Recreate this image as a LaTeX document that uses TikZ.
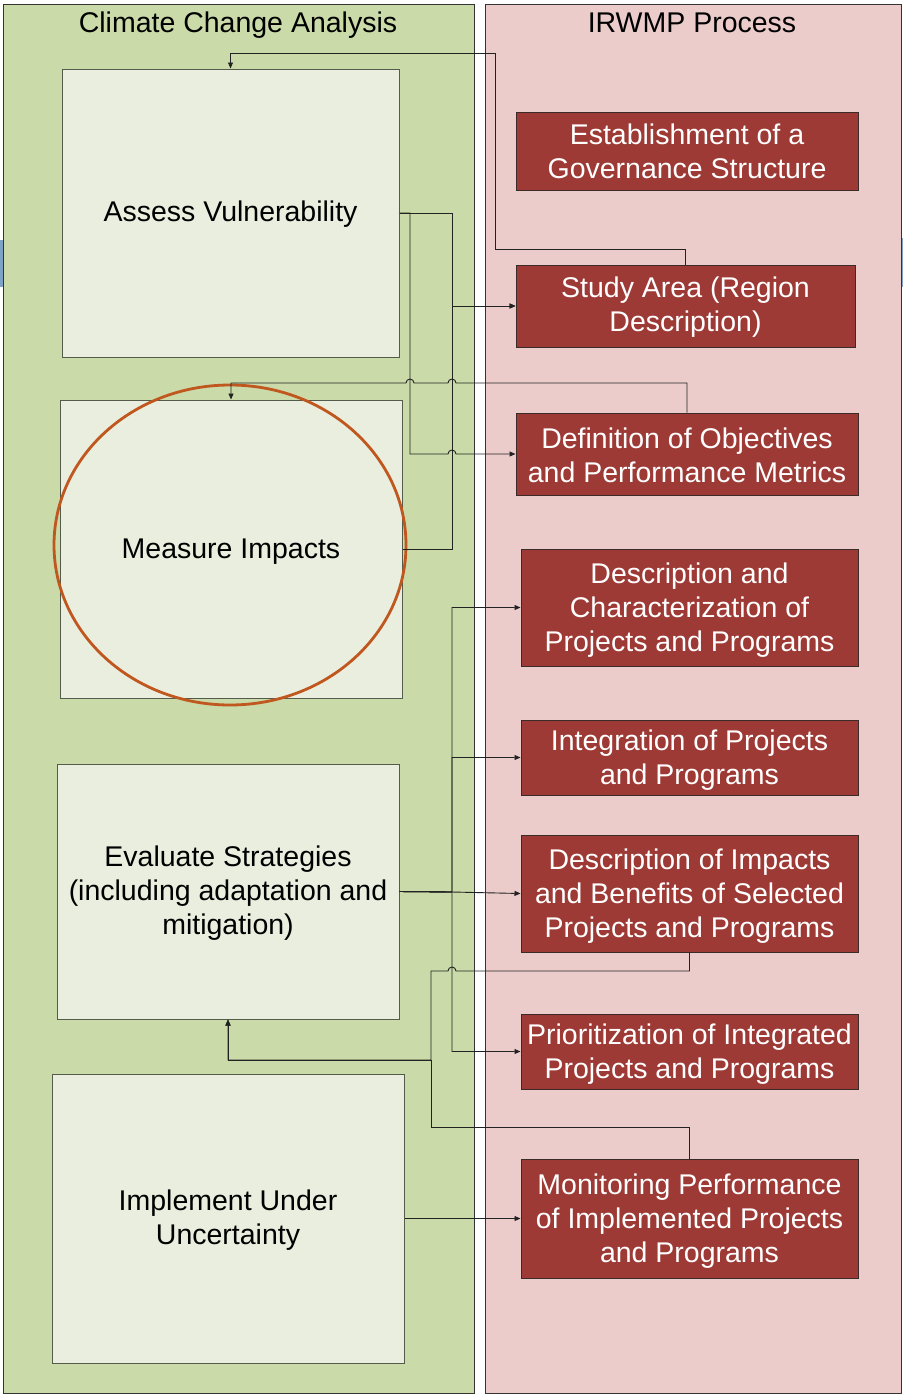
\documentclass[tikz,border=0pt]{standalone}
\usepackage{fontspec}
\setmainfont{Liberation Sans}
\usetikzlibrary{arrows.meta}
\definecolor{panelG}{HTML}{CADAA8}
\definecolor{boxG}{HTML}{EAEEDE}
\definecolor{panelR}{HTML}{EBCCCB}
\definecolor{boxR}{HTML}{9E3A35}
\definecolor{ellC}{HTML}{C0571F}
\definecolor{boxline}{HTML}{555B4A}
\definecolor{rline}{HTML}{3A2A28}
\definecolor{connC}{HTML}{222222}
\definecolor{edgeB}{HTML}{7FA3C8}
\newcommand\bigfs{\fontsize{28.5}{34}\selectfont}
\begin{document}
\begin{tikzpicture}[x=1pt,y=-1pt,
  lbox/.style={draw=boxline, fill=boxG, line width=1pt, inner sep=0pt},
  rbox/.style={draw=rline, fill=boxR, line width=1pt, inner sep=0pt},
  ltxt/.style={inner sep=0pt, align=center, text=black, font=\bigfs},
  rtxt/.style={inner sep=0pt, align=center, text=white, font=\bigfs},
  title/.style={inner sep=0pt, font=\bigfs, text=black, anchor=base},
  conn/.style={draw=connC, line width=0.9pt, -{Triangle[length=6pt,width=5pt]}}]
\useasboundingbox (0,0) rectangle (903,1395);
\fill[white] (0,0) rectangle (903,1395);
\fill[edgeB] (0,240) rectangle (3,287);
\fill[edgeB] (900,238) rectangle (903,287);
% panels
\draw[fill=panelG, draw=black!80, line width=1pt] (3,4) rectangle (474,1393);
\draw[fill=panelR, draw=black!80, line width=1pt] (485,4) rectangle (901,1393);
\node[title] (tl) at (238,32.5) {Climate Change Analysis};
\node[title] (tr) at (692,32.5) {IRWMP Process};
% left boxes
\node[lbox, minimum width=337pt, minimum height=288pt] (av) at (230.5,213) {};
\node[ltxt] (avt) at (230.5,214) {Assess Vulnerability};
\node[lbox, minimum width=342pt, minimum height=298pt] (mi) at (231,549) {};
\node[ltxt] (mit) at (231,551.5) {Measure Impacts};
\node[lbox, minimum width=342pt, minimum height=255pt] (es) at (228,891.5) {};
\node[ltxt] (est) at (228,893) {Evaluate Strategies\\(including adaptation and\\mitigation)};
\node[lbox, minimum width=352pt, minimum height=289pt] (iu) at (228,1218.5) {};
\node[ltxt] (iut) at (228,1220.5) {Implement Under\\Uncertainty};
\draw[ellC, line width=2.8pt] (230,545) ellipse [x radius=176pt, y radius=160pt];
% right boxes
\node[rbox, minimum width=342pt, minimum height=78pt] (r1) at (687,151) {};
\node[rtxt] (r1t) at (687,151) {Establishment of a\\Governance Structure};
\node[rbox, minimum width=339pt, minimum height=82pt] (r2) at (685.5,306) {};
\node[rtxt] (r2t) at (685.5,307) {Study Area (Region\\Description)};
\node[rbox, minimum width=342pt, minimum height=82pt] (r3) at (687,454) {};
\node[rtxt] (r3t) at (687,455) {Definition of Objectives\\and Performance Metrics};
\node[rbox, minimum width=337pt, minimum height=117pt] (r4) at (689.5,607.5) {};
\node[rtxt] (r4t) at (689.5,610) {Description and\\Characterization of\\Projects and Programs};
\node[rbox, minimum width=337pt, minimum height=75pt] (r5) at (689.5,757.5) {};
\node[rtxt] (r5t) at (689.5,760.5) {Integration of Projects\\and Programs};
\node[rbox, minimum width=337pt, minimum height=117pt] (r6) at (689.5,893.5) {};
\node[rtxt] (r6t) at (689.5,896) {Description of Impacts\\and Benefits of Selected\\Projects and Programs};
\node[rbox, minimum width=337pt, minimum height=75pt] (r7) at (689.5,1051.5) {};
\node[rtxt] (r7t) at (689.5,1054) {Prioritization of Integrated\\Projects and Programs};
\node[rbox, minimum width=337pt, minimum height=119pt] (r8) at (689.5,1218.5) {};
\node[rtxt] (r8t) at (689.5,1221) {Monitoring Performance\\of Implemented Projects\\and Programs};
% connectors
\draw[conn] (r2.north) |- (495,249) |- (av.north |- 0,53) -- (av.north);
\draw[conn] (av.east) -| (r2.west -| 452,0) -- (r2.west);
\draw[conn] (mi.east) -| (r2.west -| 452,0) -- (r2.west);
\draw[conn] (av.east) -| (r3.west -| 410,0) -- (448,454) arc[start angle=180, end angle=0, radius=4pt] -- (r3.west);
\draw[conn] (r3.north) |- (456,383) arc[start angle=0, end angle=180, radius=4pt] -- (414,383) arc[start angle=0, end angle=180, radius=4pt] -- (mi.north |- 0,383) -- (mi.north);
\draw[conn] (es.east) -- (452,892) -- (r6.west);
\draw[conn] (es.east) -- (452,892) |- (r4.west);
\draw[conn] (es.east) -- (452,892) |- (r5.west);
\draw[conn] (es.east) -- (452,892) |- (r7.west);
\draw[conn] (r6.south) |- (456,971) arc[start angle=0, end angle=180, radius=4pt] -- (431,971) -- (431,1060) -| (es.south);
\draw[conn] (r8.north) |- (431,1127) -- (431,1060) -| (es.south);
\draw[conn] (iu.east) -- (r8.west);
\end{tikzpicture}
\end{document}
